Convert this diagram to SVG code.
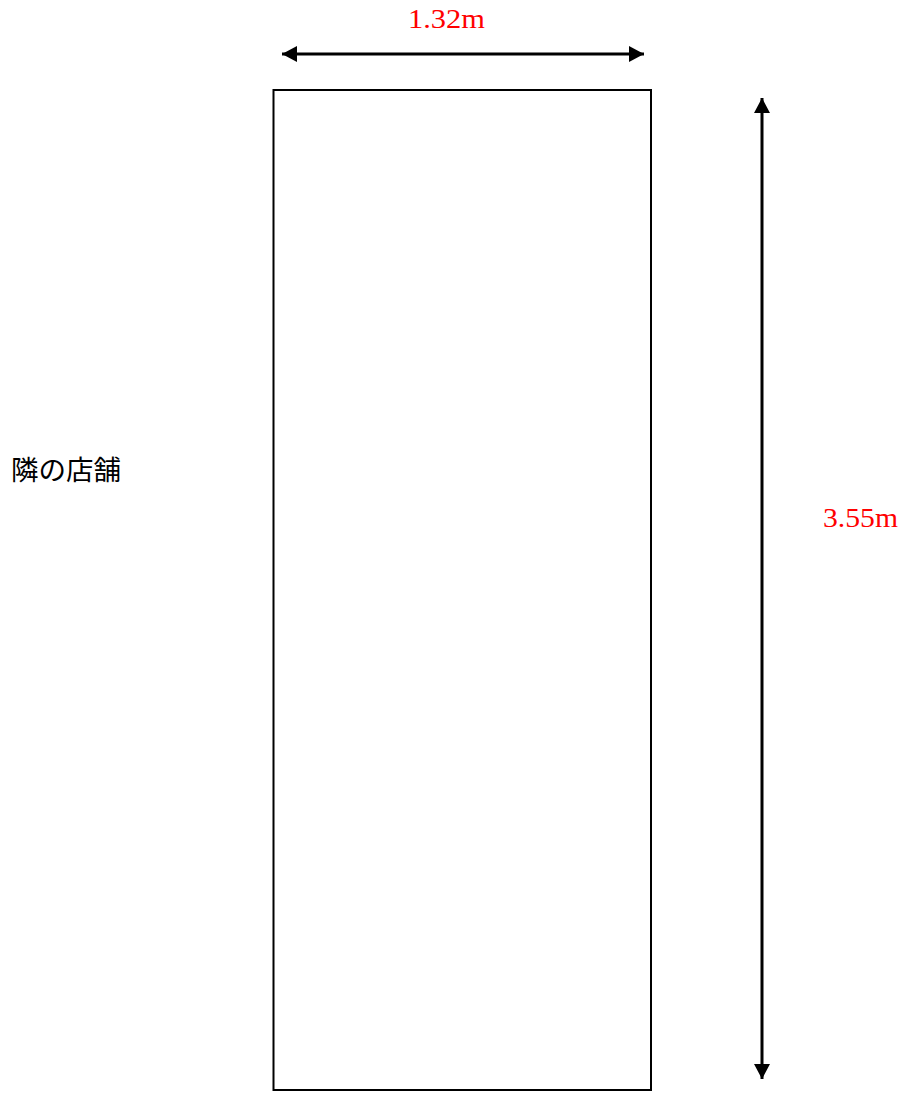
<svg xmlns="http://www.w3.org/2000/svg" width="904" height="1093" viewBox="0 0 904 1093">
  <defs>
    <style>
      .dim { font-family: "Liberation Serif", "DejaVu Serif", serif; font-size: 27px; fill: #ff0000; }
      .lbl { font-family: "Noto Sans CJK JP", sans-serif; font-size: 27.5px; fill: #000000; }
      .line { stroke: #000000; stroke-width: 3; fill: none; }
    </style>
    <marker id="ah" viewBox="0 0 15 16" refX="15" refY="8" markerWidth="15" markerHeight="16" markerUnits="userSpaceOnUse" orient="auto-start-reverse">
      <path d="M0,0 L15,8 L0,16 Z" fill="#000000"/>
    </marker>
  </defs>
  <rect width="904" height="1093" fill="#ffffff"/>
  <g id="room">
    <rect x="273.5" y="90" width="377.5" height="1000" fill="none" stroke="#000000" stroke-width="2"/>
  </g>
  <g id="neighbor">
    <text class="lbl" x="11" y="479.5">隣の店舗</text>
  </g>
  <g id="connectors">
    <line class="line" x1="282" y1="54" x2="644" y2="54" marker-start="url(#ah)" marker-end="url(#ah)"/>
    <line class="line" x1="762" y1="98" x2="762" y2="1079" marker-start="url(#ah)" marker-end="url(#ah)"/>
  </g>
  <g id="labels">
    <text class="dim" x="408" y="28" textLength="77" lengthAdjust="spacingAndGlyphs">1.32m</text>
    <text class="dim" x="823" y="527" textLength="75" lengthAdjust="spacingAndGlyphs">3.55m</text>
  </g>
</svg>
